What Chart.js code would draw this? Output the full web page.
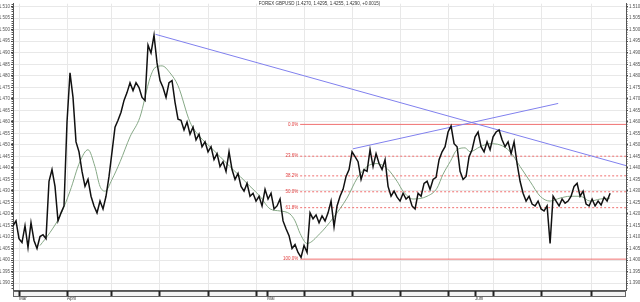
<!DOCTYPE html>
<html>
<head>
<meta charset="utf-8">
<script src="https://cdn.jsdelivr.net/npm/chart.js@4"></script>
<style>
  html, body { margin: 0; padding: 0; background: #fff; }
  #wrap { width: 640px; height: 302px; }
</style>
</head>
<body>
<div id="wrap"><canvas id="fxChart" width="640" height="302"></canvas></div>
<script>
const chartTitle = 'FOREX GBPUSD (1.4270, 1.4295, 1.4255, 1.4290, +0.0015)';

// price, one value per bar
const price = [
  1.4149, 1.4170, 1.4093, 1.4076, 1.4149, 1.4055, 1.4162, 1.4085, 1.4050, 1.4102,
  1.4110, 1.4093, 1.4342, 1.4393, 1.4320, 1.4170, 1.4205, 1.4235, 1.4599, 1.4813,
  1.4706, 1.4513, 1.4470, 1.4385, 1.4320, 1.4350, 1.4277, 1.4235, 1.4205, 1.4256,
  1.4222, 1.4277, 1.4363, 1.4470, 1.4577, 1.4607, 1.4642, 1.4693, 1.4727, 1.4770,
  1.4736, 1.4770, 1.4749, 1.4706, 1.4693, 1.4933, 1.4899, 1.4976, 1.4856, 1.4779,
  1.4749, 1.4706, 1.4770, 1.4779, 1.4685, 1.4612, 1.4607, 1.4565, 1.4599, 1.4547,
  1.4577, 1.4522, 1.4547, 1.4492, 1.4513, 1.4470, 1.4492, 1.4436, 1.4462, 1.4406,
  1.4427, 1.4385, 1.4470, 1.4393, 1.4350, 1.4376, 1.4320, 1.4299, 1.4333, 1.4277,
  1.4290, 1.4256, 1.4277, 1.4235, 1.4307, 1.4265, 1.4290, 1.4222, 1.4235, 1.4265,
  1.4170, 1.4136, 1.4106, 1.4050, 1.4067, 1.4033, 1.4012, 1.4063, 1.4033, 1.4205,
  1.4179, 1.4196, 1.4162, 1.4192, 1.4170, 1.4205, 1.4256, 1.4145, 1.4235, 1.4277,
  1.4307, 1.4363, 1.4393, 1.4470, 1.4449, 1.4427, 1.4350, 1.4393, 1.4385, 1.4479,
  1.4406, 1.4462, 1.4419, 1.4393, 1.4436, 1.4320, 1.4277, 1.4299, 1.4273, 1.4256,
  1.4290, 1.4265, 1.4277, 1.4235, 1.4222, 1.4290, 1.4277, 1.4333, 1.4342, 1.4307,
  1.4350, 1.4359, 1.4436, 1.4470, 1.4492, 1.4556, 1.4582, 1.4505, 1.4492, 1.4385,
  1.4350, 1.4363, 1.4449, 1.4479, 1.4535, 1.4556, 1.4492, 1.4470, 1.4513, 1.4479,
  1.4535, 1.4556, 1.4565, 1.4522, 1.4492, 1.4513, 1.4462, 1.4513, 1.4419, 1.4342,
  1.4290, 1.4256, 1.4277, 1.4243, 1.4235, 1.4256, 1.4222, 1.4213, 1.4235, 1.4072,
  1.4277, 1.4256, 1.4235, 1.4265, 1.4247, 1.4256, 1.4277, 1.4320, 1.4333, 1.4277,
  1.4299, 1.4243, 1.4235, 1.4265, 1.4235, 1.4256, 1.4239, 1.4273, 1.4256, 1.4290
];

// moving average
const maBars = [9, 12.3, 15.7, 19, 22.3, 25, 27.3, 29, 30.7, 33, 35.7, 39, 42.3, 45.7, 47.3, 49.7,
  52.3, 55, 59, 62.3, 65.7, 69, 72.3, 75.7, 79, 82.3, 85.7, 89, 92.3, 94, 95.7, 98, 102.3,
  106.7, 111.3, 114.7, 118, 121.3, 124.7, 128, 130, 133.3, 138, 141.3, 143.3, 145.7, 148,
  150.7, 152.3, 155.7, 159, 162.3, 165.7, 169, 172.3, 175.7, 179, 182.3, 185.7, 189, 192.3,
  195.7, 199];
const maValues = [1.4063, 1.4119, 1.4192, 1.4299, 1.4427, 1.4479, 1.4406, 1.4320, 1.4299, 1.4350,
  1.4427, 1.4535, 1.4620, 1.4792, 1.4835, 1.4843, 1.4813, 1.4757, 1.4599, 1.4535, 1.4492,
  1.4449, 1.4406, 1.4363, 1.4320, 1.4277, 1.4222, 1.4213, 1.4200, 1.4170, 1.4115, 1.4072,
  1.4115, 1.4183, 1.4269, 1.4355, 1.4406, 1.4419, 1.4397, 1.4342, 1.4299, 1.4265, 1.4277,
  1.4312, 1.4372, 1.4427, 1.4479, 1.4487, 1.4470, 1.4492, 1.4505, 1.4500, 1.4470, 1.4406,
  1.4342, 1.4277, 1.4256, 1.4269, 1.4277, 1.4277, 1.4256, 1.4265, 1.4269];

// trend lines
const downBars = [47.5, 204.3];
const downValues = [1.4980, 1.4410];
const upBars = [113.3, 181.7];
const upValues = [1.4483, 1.4680];

// fibonacci retracement
const fibHigh = 1.4589;
const fibLow = 1.4004;
const fibStartBar = 95.7;
const fibLevels = [0, 23.6, 38.2, 50, 61.8, 100];

// axes
const yTicks = [1.390, 1.395, 1.400, 1.405, 1.410, 1.415, 1.420, 1.425, 1.430, 1.435, 1.440,
  1.445, 1.450, 1.455, 1.460, 1.465, 1.470, 1.475, 1.480, 1.485, 1.490, 1.495, 1.500, 1.505, 1.510];
const minorStep = 0.001;
const weekBars = [2, 18, 32.7, 48.7, 65, 81, 97, 113, 129, 145.3, 160.3, 176.3, 192.7];
const monthBars = [2, 18, 84.7, 154];
const monthNames = ['Mär', 'April', 'Mai', 'Juni'];
const lastBar = 204.3;

const pairs = (xs, ys) => xs.map((x, i) => ({ x, y: ys[i] }));
const fibValue = lv => fibHigh - (fibHigh - fibLow) * lv / 100;

const fibSets = fibLevels.map(lv => ({
  label: lv.toFixed(1) + '%',
  data: [{ x: fibStartBar, y: fibValue(lv) }, { x: lastBar, y: fibValue(lv) }],
  borderColor: '#f07070',
  borderWidth: 1,
  borderDash: (lv === 0 || lv === 100) ? [] : [2, 2],
  pointRadius: 0,
  order: 5
}));

const tinyFont = { family: 'Liberation Sans', size: 4.5 };

const extras = {
  id: 'extras',
  beforeDraw(chart) {
    const { ctx, chartArea: a } = chart;
    ctx.save();
    ctx.fillStyle = '#f4f4f4';
    ctx.fillRect(a.left, a.bottom + 1, a.right - a.left, 5);
    ctx.strokeStyle = '#666';
    ctx.lineWidth = 1;
    ctx.strokeRect(a.left + 0.5, a.bottom + 1.5, a.right - a.left - 1, 5);
    ctx.restore();
  },
  afterDraw(chart) {
    const { ctx, scales, chartArea: a } = chart;
    ctx.save();
    // minor ticks along both value axes
    ctx.strokeStyle = '#555';
    ctx.lineWidth = 1;
    ctx.beginPath();
    for (let v = yTicks[0] - minorStep * 3; v <= scales.y.max; v += minorStep) {
      const py = Math.round(scales.y.getPixelForValue(v)) + 0.5;
      if (py < a.top || py > a.bottom) continue;
      ctx.moveTo(a.left - 1.5, py); ctx.lineTo(a.left, py);
      ctx.moveTo(a.right, py); ctx.lineTo(a.right + 1.5, py);
    }
    ctx.stroke();
    // fib labels
    ctx.font = '4.5px "Liberation Sans"';
    ctx.fillStyle = '#e03c3c';
    ctx.textAlign = 'right';
    ctx.textBaseline = 'middle';
    const x = scales.x.getPixelForValue(fibStartBar) - 2;
    fibLevels.forEach(lv => {
      ctx.fillText(lv.toFixed(1) + '%', x, scales.y.getPixelForValue(fibValue(lv)));
    });
    // title
    ctx.fillStyle = '#333';
    ctx.textAlign = 'center';
    ctx.textBaseline = 'top';
    ctx.fillText(chartTitle, (a.left + a.right) / 2, 2);
    ctx.restore();
  }
};

const yAxis = (pos, w) => ({
  type: 'linear',
  position: pos,
  min: 1.3870,
  max: 1.5113,
  afterBuildTicks: s => { s.ticks = yTicks.map(v => ({ value: v })); },
  afterFit: s => { s.width = w; },
  ticks: { font: tinyFont, color: '#555', padding: 1, callback: v => v.toFixed(3) },
  grid: { color: pos === 'left' ? '#e8e8e8' : 'transparent', tickLength: 2, tickColor: '#444' },
  border: { color: '#555' }
});

new Chart(document.getElementById('fxChart').getContext('2d'), {
  type: 'line',
  data: {
    datasets: [
      { label: 'Kurs', data: price.map((v, i) => ({ x: i, y: v })), borderColor: '#111', borderWidth: 1.5, pointRadius: 0, order: 1 },
      { label: 'GD', data: pairs(maBars, maValues), borderColor: '#86a886', borderWidth: 1, pointRadius: 0, cubicInterpolationMode: 'monotone', order: 2 },
      { label: 'Trend 1', data: pairs(downBars, downValues), borderColor: '#8080ee', borderWidth: 1, pointRadius: 0, order: 3 },
      { label: 'Trend 2', data: pairs(upBars, upValues), borderColor: '#8080ee', borderWidth: 1, pointRadius: 0, order: 3 },
      ...fibSets
    ]
  },
  options: {
    responsive: false,
    animation: false,
    layout: { padding: 0 },
    plugins: { legend: { display: false }, title: { display: false }, tooltip: { enabled: false } },
    scales: {
      x: {
        type: 'linear',
        min: 0,
        max: lastBar,
        afterBuildTicks: s => {
          const vals = [...new Set([...weekBars, ...monthBars])].sort((a, b) => a - b);
          s.ticks = vals.map(v => ({ value: v }));
        },
        afterFit: s => { s.height = 12; },
        ticks: {
          font: tinyFont, color: '#444', padding: 0, align: 'start', autoSkip: false, maxRotation: 0,
          callback: v => { const k = monthBars.indexOf(v); return k >= 0 ? monthNames[k] : ''; }
        },
        grid: {
          color: c => (c.tick && weekBars.includes(c.tick.value)) ? '#e8e8e8' : 'transparent',
          tickLength: 6, tickWidth: 2, tickColor: '#222'
        },
        border: { color: '#555' }
      },
      y: yAxis('left', 13),
      y2: yAxis('right', 14)
    }
  },
  plugins: [extras]
});
</script>
</body>
</html>
